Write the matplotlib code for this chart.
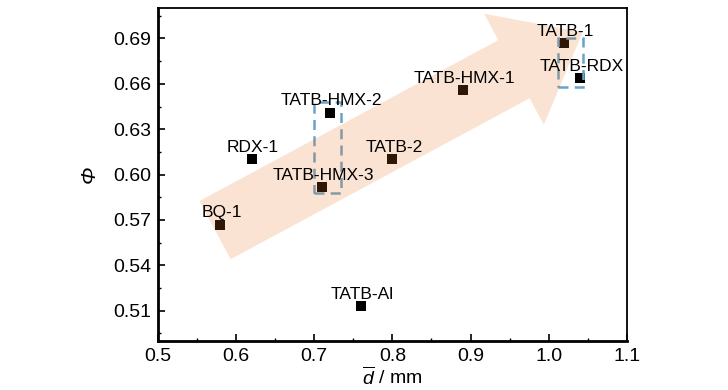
import numpy as np
import matplotlib
matplotlib.use('Agg')
import matplotlib.pyplot as plt
from matplotlib.patches import Polygon, Rectangle
from matplotlib.transforms import IdentityTransform
from matplotlib.ticker import MultipleLocator

plt.rcParams['font.family'] = ['Liberation Sans', 'DejaVu Sans']
plt.rcParams['mathtext.fontset'] = 'custom'
plt.rcParams['mathtext.rm'] = 'Liberation Sans'
plt.rcParams['mathtext.it'] = 'Liberation Sans:italic'

# data
names = ['BQ-1', 'RDX-1', 'TATB-HMX-3', 'TATB-HMX-2', 'TATB-Al', 'TATB-2',
         'TATB-HMX-1', 'TATB-1', 'TATB-RDX']
d_mean = [0.58, 0.62, 0.71, 0.72, 0.76, 0.80, 0.89, 1.02, 1.04]
phi = [0.567, 0.610, 0.592, 0.641, 0.513, 0.610, 0.656, 0.687, 0.664]

fig = plt.figure(figsize=(7.28, 3.90), dpi=100)
ax = fig.add_axes([0.217, 0.1256, 0.644, 0.8534])

ax.scatter(d_mean, phi, marker='s', s=62, color='black', zorder=2, linewidths=0)

for n, x, y in zip(names, d_mean, phi):
    ax.annotate(n, (x, y), xytext=(1, 3), textcoords='offset points',
                ha='center', va='bottom', fontsize=12.5, zorder=5)

ax.set_xlim(0.5, 1.1)
ax.set_ylim(0.49, 0.71)
ax.xaxis.set_major_locator(MultipleLocator(0.1))
ax.xaxis.set_minor_locator(MultipleLocator(0.05))
ax.yaxis.set_minor_locator(MultipleLocator(0.015))
ax.set_yticks([0.51, 0.54, 0.57, 0.60, 0.63, 0.66, 0.69])
ax.xaxis.set_major_formatter(plt.FuncFormatter(lambda v, p: f'{v:.1f}'))
ax.yaxis.set_major_formatter(plt.FuncFormatter(lambda v, p: f'{v:.2f}'))
ax.tick_params(which='both', direction='in', labelsize=14, top=False, right=False)
ax.tick_params(which='major', length=5, width=1.2, pad=5)
ax.tick_params(which='minor', length=2.5, width=1.0)
for s in ['left', 'bottom']:
    ax.spines[s].set_linewidth(2.0)
for s in ['top', 'right']:
    ax.spines[s].set_linewidth(1.3)

ax.set_xlabel(r'$\overline{d}$ / mm', fontsize=14, labelpad=1)
ax.set_ylabel('Φ', fontsize=15, style='italic', labelpad=10)

# dashed boxes around grouped samples
box_kw = dict(fill=False, ec='#6aa3c9', lw=1.8, ls=(0, (4, 2.5)), zorder=3)
ax.add_patch(Rectangle((0.700, 0.588), 0.0345, 0.060, **box_kw))
ax.add_patch(Rectangle((1.0115, 0.658), 0.033, 0.032, **box_kw))

# big translucent trend arrow, built in pixel space
fig.canvas.draw()
tail = ax.transData.transform((0.573, 0.5633))
tip = ax.transData.transform((1.0435, 0.6941))
v = tip - tail
L = np.hypot(*v)
u = v / L
p = np.array([-u[1], u[0]])
hw, HW, HL = 33, 63, 78
base = tip - u * HL
pts = [tail + p * hw, base + p * hw, base + p * HW, tip,
       base - p * HW, base - p * hw, tail - p * hw]
ax.add_patch(Polygon(pts, closed=True, transform=IdentityTransform(),
                     fc='#e87524', ec='none', alpha=0.2, zorder=3))

fig.savefig('out.png', dpi=100)
